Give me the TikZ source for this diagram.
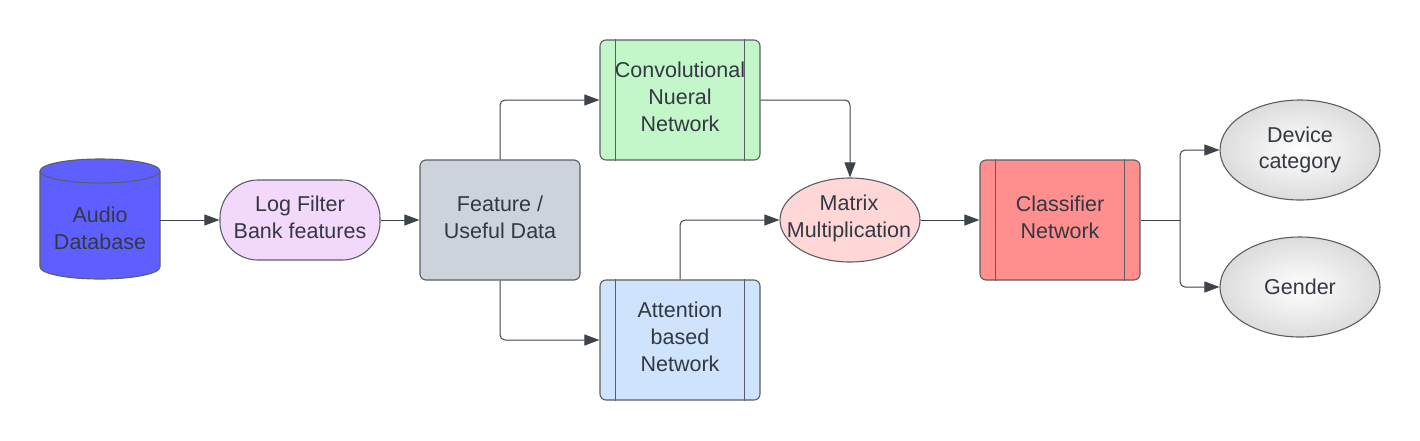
\documentclass[tikz,border=0pt]{standalone}
\usepackage{fontspec}
\setmainfont{Liberation Sans}
\usetikzlibrary{shapes.geometric,arrows.meta,calc}
\definecolor{txt}{HTML}{333842}
\definecolor{edge}{HTML}{5A5F66}
\definecolor{wire}{HTML}{3E434A}
\definecolor{cylfill}{HTML}{5F5FFF}
\definecolor{logfill}{HTML}{F2D9FC}
\definecolor{featfill}{HTML}{CDD3DB}
\definecolor{cnnfill}{HTML}{C3F6C8}
\definecolor{attfill}{HTML}{CFE3FD}
\definecolor{matfill}{HTML}{FFD7D7}
\definecolor{clsfill}{HTML}{FF8F8E}
\definecolor{outfill}{HTML}{DCDCDC}
\tikzset{
  x=1pt,y=-1pt,
  every node/.style={font=\fontsize{21.5}{26.8}\selectfont, text=txt, align=center, inner sep=0pt},
  boxbase/.style={draw=edge, line width=1.1pt, rounded corners=6pt, minimum width=160pt, minimum height=120pt},
  wirearrow/.style={draw=wire, line width=1pt, rounded corners=5pt, -{Triangle[length=15pt,width=11pt]}},
  plainwire/.style={draw=wire, line width=1pt, rounded corners=5pt},
  outell/.style={ellipse, draw=edge, line width=1.1pt, minimum width=160pt, minimum height=100pt, inner color=white, outer color=outfill},
  divline/.style={draw=edge, line width=1.1pt},
}
\begin{document}
\begin{tikzpicture}
\useasboundingbox (0,0) rectangle (1420,440);
% cylinder
\filldraw[fill=cylfill, draw=edge, line width=1.1pt] (40,171) -- (40,267) arc[start angle=180, end angle=360, x radius=60, y radius=-12] -- (160,171) arc[start angle=0, end angle=180, x radius=60, y radius=-12] -- cycle;
\draw[edge, line width=1.1pt] (40,171) arc[start angle=180, end angle=360, x radius=60, y radius=-12];
\node (audio) at (100,228) {Audio\\Database};
\coordinate (audioR) at (160,220);
% log filter
\node[draw=edge, line width=1.1pt, fill=logfill, rounded corners=38pt, minimum width=160pt, minimum height=80pt] (log) at (300,220) {};
\node (logtxt) at (300,217) {Log Filter\\Bank features};
% feature
\node[boxbase, fill=featfill] (feat) at (500,220) {};
\node (feattxt) at (500,217) {Feature /\\Useful Data};
% CNN
\node[boxbase, fill=cnnfill] (cnn) at (680,100) {};
\node (cnntxt) at (680,97) {Convolutional\\Nueral\\Network};
\draw[divline] ($(cnn.north west)+(16,0)$) -- ($(cnn.south west)+(16,0)$);
\draw[divline] ($(cnn.north east)+(-16,0)$) -- ($(cnn.south east)+(-16,0)$);
% Attention
\node[boxbase, fill=attfill] (att) at (680,340) {};
\node (atttxt) at (680,337) {Attention\\based\\Network};
\draw[divline] ($(att.north west)+(16,0)$) -- ($(att.south west)+(16,0)$);
\draw[divline] ($(att.north east)+(-16,0)$) -- ($(att.south east)+(-16,0)$);
% Matrix
\node[ellipse, draw=edge, line width=1.1pt, fill=matfill, minimum width=140pt, minimum height=84pt] (mat) at (850,220) {};
\node (mattxt) at (849,218.5) {Matrix\\Multiplication};
% Classifier
\node[boxbase, fill=clsfill] (cls) at (1060,220) {};
\node (clstxt) at (1060,217) {Classifier\\Network};
\draw[divline] ($(cls.north west)+(16,0)$) -- ($(cls.south west)+(16,0)$);
\draw[divline] ($(cls.north east)+(-16,0)$) -- ($(cls.south east)+(-16,0)$);
% outputs
\node[outell] (dev) at (1300,150) {};
\node (devtxt) at (1300,150) {Device\\category};
\node[outell] (gen) at (1300,287) {};
\node (gentxt) at (1300,287) {Gender};
% connectors
\draw[wirearrow] (audioR) -- (log.west);
\draw[wirearrow] (log.east) -- (feat.west);
\draw[wirearrow] (feat.north) |- (cnn.west);
\draw[wirearrow] (feat.south) |- (att.west);
\draw[wirearrow] (cnn.east) -| (mat.north);
\draw[wirearrow] (att.north) |- (mat.west);
\draw[wirearrow] (mat.east) -- (cls.west);
\coordinate (split) at (1180,220);
\draw[plainwire] (cls.east) -- (split);
\draw[wirearrow] (split) |- (dev.west);
\draw[wirearrow] (split) |- (gen.west);
\end{tikzpicture}
\end{document}
